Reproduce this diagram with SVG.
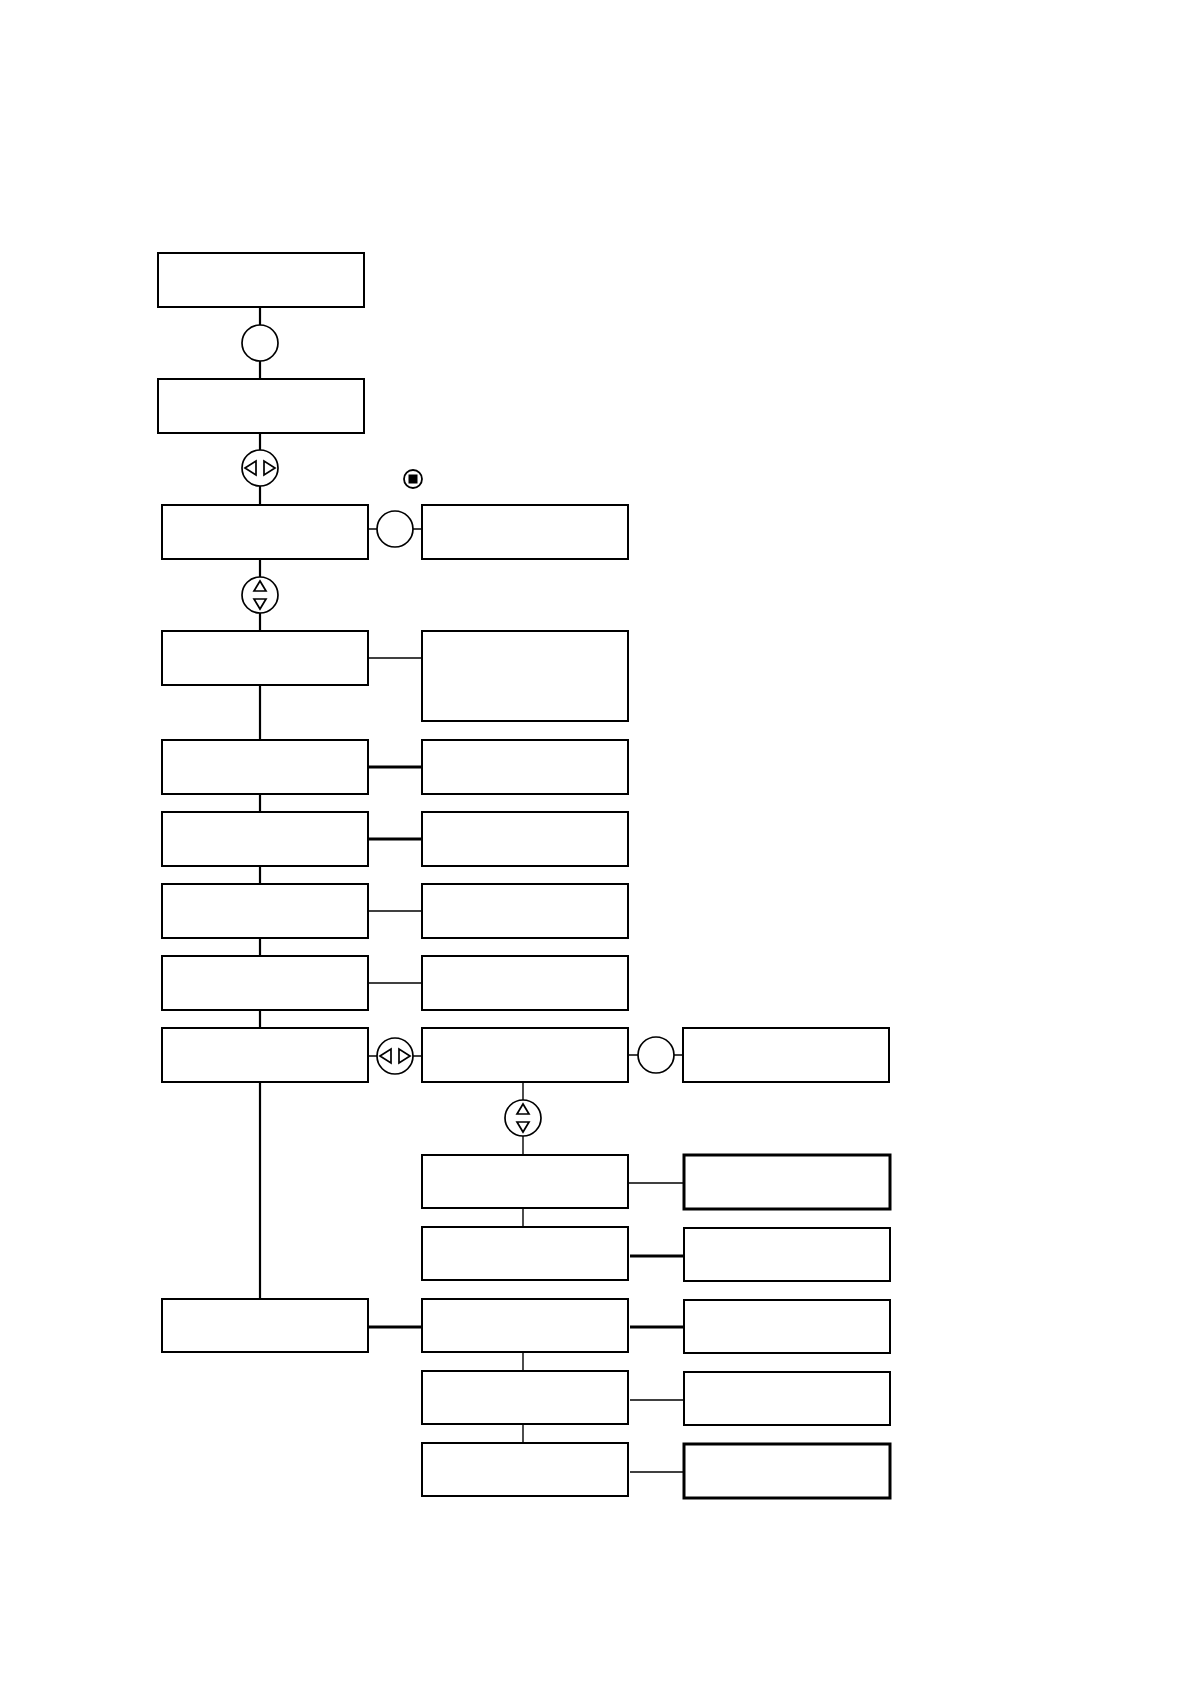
<svg xmlns="http://www.w3.org/2000/svg" width="1190" height="1684" viewBox="0 0 1190 1684">
<style>
.box{fill:#fff;stroke:#000;stroke-width:2}
.boxb{fill:#fff;stroke:#000;stroke-width:3}
.ln{stroke:#000;stroke-width:1.4;fill:none}
.lm{stroke:#000;stroke-width:2.2;fill:none}
.lt{stroke:#000;stroke-width:3;fill:none}
.cir{fill:#fff;stroke:#000;stroke-width:1.7}
.tri{fill:#fff;stroke:#000;stroke-width:1.7;stroke-linejoin:miter}
</style>
<rect width="1190" height="1684" fill="#fff"/>
<g id="connectors">
<line class="lm" x1="260" y1="307" x2="260" y2="379"/>
<line class="lm" x1="260" y1="433" x2="260" y2="505"/>
<line class="lm" x1="260" y1="559" x2="260" y2="631"/>
<line class="lm" x1="260" y1="685" x2="260" y2="740"/>
<line class="lm" x1="260" y1="794" x2="260" y2="812"/>
<line class="lm" x1="260" y1="866" x2="260" y2="884"/>
<line class="lm" x1="260" y1="938" x2="260" y2="956"/>
<line class="lm" x1="260" y1="1010" x2="260" y2="1028"/>
<line class="lm" x1="260" y1="1082" x2="260" y2="1298"/>
<line class="ln" x1="368" y1="529" x2="422" y2="529"/>
<line class="ln" x1="368" y1="658" x2="422" y2="658"/>
<line class="lt" x1="368" y1="767" x2="422" y2="767"/>
<line class="lt" x1="368" y1="839" x2="422" y2="839"/>
<line class="ln" x1="368" y1="911" x2="422" y2="911"/>
<line class="ln" x1="368" y1="983" x2="422" y2="983"/>
<line class="ln" x1="368" y1="1056" x2="422" y2="1056"/>
<line class="ln" x1="628" y1="1055" x2="683" y2="1055"/>
<line class="ln" x1="523" y1="1082" x2="523" y2="1155"/>
<line class="ln" x1="523" y1="1208" x2="523" y2="1227"/>
<line class="ln" x1="523" y1="1352" x2="523" y2="1371"/>
<line class="ln" x1="523" y1="1424" x2="523" y2="1443"/>
<line class="ln" x1="628" y1="1183" x2="684" y2="1183"/>
<line class="lt" x1="630" y1="1256" x2="684" y2="1256"/>
<line class="lt" x1="368" y1="1327" x2="422" y2="1327"/>
<line class="lt" x1="630" y1="1327" x2="684" y2="1327"/>
<line class="ln" x1="630" y1="1400" x2="684" y2="1400"/>
<line class="ln" x1="630" y1="1472" x2="684" y2="1472"/>
</g>
<g id="n1"><rect class="box" x="158" y="253" width="206" height="54"/></g>
<g id="n2"><rect class="box" x="158" y="379" width="206" height="54"/></g>
<g id="n3"><rect class="box" x="162" y="505" width="206" height="54"/></g>
<g id="n3r"><rect class="box" x="422" y="505" width="206" height="54"/></g>
<g id="n4"><rect class="box" x="162" y="631" width="206" height="54"/></g>
<g id="n4r"><rect class="box" x="422" y="631" width="206" height="90"/></g>
<g id="n5"><rect class="box" x="162" y="740" width="206" height="54"/></g>
<g id="n5r"><rect class="box" x="422" y="740" width="206" height="54"/></g>
<g id="n6"><rect class="box" x="162" y="812" width="206" height="54"/></g>
<g id="n6r"><rect class="box" x="422" y="812" width="206" height="54"/></g>
<g id="n7"><rect class="box" x="162" y="884" width="206" height="54"/></g>
<g id="n7r"><rect class="box" x="422" y="884" width="206" height="54"/></g>
<g id="n8"><rect class="box" x="162" y="956" width="206" height="54"/></g>
<g id="n8r"><rect class="box" x="422" y="956" width="206" height="54"/></g>
<g id="n9"><rect class="box" x="162" y="1028" width="206" height="54"/></g>
<g id="n9m"><rect class="box" x="422" y="1028" width="206" height="54"/></g>
<g id="n9r"><rect class="box" x="683" y="1028" width="206" height="54"/></g>
<g id="n10m"><rect class="box" x="422" y="1155" width="206" height="53"/></g>
<g id="n10r"><rect class="boxb" x="684" y="1155" width="206" height="54"/></g>
<g id="n11m"><rect class="box" x="422" y="1227" width="206" height="53"/></g>
<g id="n11r"><rect class="box" x="684" y="1228" width="206" height="53"/></g>
<g id="n12"><rect class="box" x="162" y="1299" width="206" height="53"/></g>
<g id="n12m"><rect class="box" x="422" y="1299" width="206" height="53"/></g>
<g id="n12r"><rect class="box" x="684" y="1300" width="206" height="53"/></g>
<g id="n13m"><rect class="box" x="422" y="1371" width="206" height="53"/></g>
<g id="n13r"><rect class="box" x="684" y="1372" width="206" height="53"/></g>
<g id="n14m"><rect class="box" x="422" y="1443" width="206" height="53"/></g>
<g id="n14r"><rect class="boxb" x="684" y="1444" width="206" height="54"/></g>
<g id="c1"><circle class="cir" cx="260" cy="343" r="18"/></g>
<g id="c2"><circle class="cir" cx="260" cy="468" r="18"/>
<polygon class="tri" points="245,468 256,461 256,475"/>
<polygon class="tri" points="264,461 264,475 275,468"/></g>
<g id="stop"><circle cx="413" cy="479" r="9" fill="#fff" stroke="#000" stroke-width="1.8"/><rect x="408.5" y="474.5" width="9" height="9" fill="#000"/></g>
<g id="c3"><circle class="cir" cx="395" cy="529" r="18"/></g>
<g id="c4"><circle class="cir" cx="260" cy="595" r="18"/>
<polygon class="tri" points="260,581 254,591 266,591"/>
<polygon class="tri" points="254,599 266,599 260,609"/></g>
<g id="c5"><circle class="cir" cx="395" cy="1056" r="18"/>
<polygon class="tri" points="380,1056 391,1049 391,1063"/>
<polygon class="tri" points="399,1049 399,1063 410,1056"/></g>
<g id="c6"><circle class="cir" cx="656" cy="1055" r="18"/></g>
<g id="c7"><circle class="cir" cx="523" cy="1118" r="18"/>
<polygon class="tri" points="523,1104 517,1114 529,1114"/>
<polygon class="tri" points="517,1122 529,1122 523,1132"/></g>
</svg>
